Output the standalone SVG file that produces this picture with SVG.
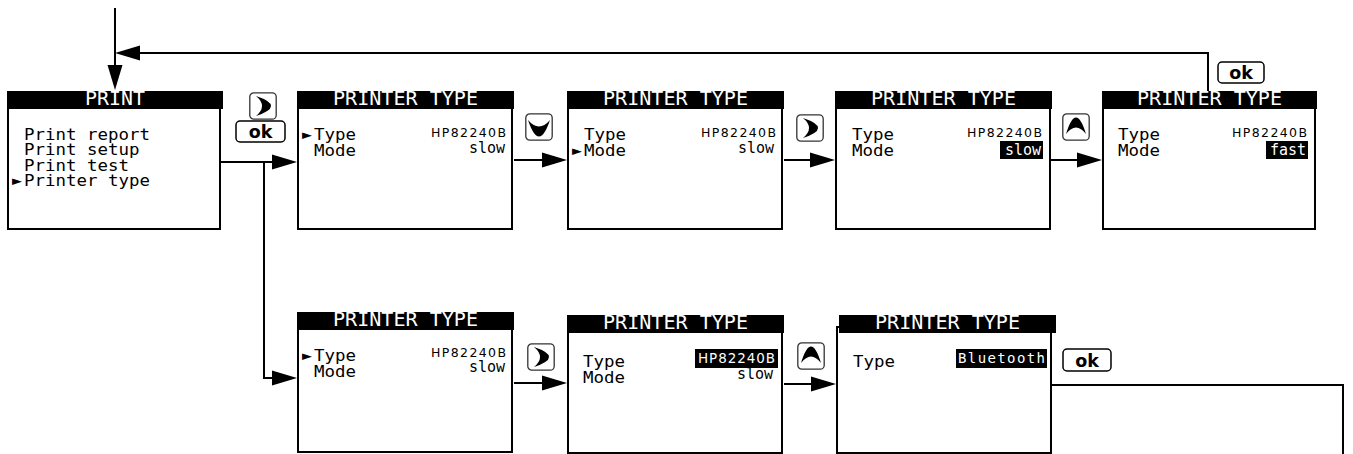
<svg xmlns="http://www.w3.org/2000/svg" xmlns:xlink="http://www.w3.org/1999/xlink" width="1353" height="454" viewBox="0 0 1353 454">
<style>
.box{fill:#fff;stroke:#000;stroke-width:2}
.bar{fill:#000}
.hdr{font-family:"DejaVu Sans Mono",monospace;font-size:19px;fill:#fff;text-anchor:middle}
.lbl{font-family:"DejaVu Sans Mono",monospace;font-size:16.5px;fill:#000}
.val{font-family:"DejaVu Sans",sans-serif;font-size:12.5px;fill:#000}
.valm{font-family:"DejaVu Sans Mono",monospace;font-size:13px;fill:#000}
.vs{font-family:"DejaVu Sans Mono",monospace;font-size:15px;fill:#000;text-anchor:end}
.inv{fill:#fff}
.hl{fill:#000}
.conn{fill:none;stroke:#000;stroke-width:2}
.key{fill:#fff;stroke:#333;stroke-width:1.3}
.okb{fill:#fff;stroke:#000;stroke-width:1.5}
.okt{font-family:"DejaVu Sans",sans-serif;font-weight:bold;font-size:17.5px;fill:#000;text-anchor:middle}
</style>
<defs>
<marker id="ah" markerUnits="userSpaceOnUse" viewBox="0 0 26 16" markerWidth="26" markerHeight="16" refX="15" refY="8" orient="auto">
<path d="M0,0.5 L25,8 L0,15.5Z" fill="#000"/>
</marker>
<symbol id="k-right" viewBox="0 0 28 28"><rect class="key" x="0.8" y="0.8" width="26.4" height="26.4" rx="4"/><path d="M7,4 Q37,14 7,24 Q19,14 7,4Z" fill="#000"/></symbol>
<symbol id="k-down" viewBox="0 0 28 28"><rect class="key" x="0.8" y="0.8" width="26.4" height="26.4" rx="4"/><path d="M3,7 Q14,20 25,7 Q14,40 3,7Z" fill="#000"/></symbol>
<symbol id="k-up" viewBox="0 0 28 28"><rect class="key" x="0.8" y="0.8" width="26.4" height="26.4" rx="4"/><path d="M4,21 Q14,-12 24,21 Q14,8 4,21Z" fill="#000"/></symbol>
</defs>

<g id="connectors">
<path class="conn" d="M115,8 V80" marker-end="url(#ah)"/>
<path class="conn" d="M1208,91 V53 H125" marker-end="url(#ah)"/>
<path class="conn" d="M221,162 H287" marker-end="url(#ah)"/>
<path class="conn" d="M264,162 V378 H287" marker-end="url(#ah)"/>
<path class="conn" d="M514,160 H557" marker-end="url(#ah)"/>
<path class="conn" d="M784,160 H825" marker-end="url(#ah)"/>
<path class="conn" d="M1051,160 H1092" marker-end="url(#ah)"/>
<path class="conn" d="M514,383 H557" marker-end="url(#ah)"/>
<path class="conn" d="M784,384 H826" marker-end="url(#ah)"/>
<path class="conn" d="M1052,385 H1343 V454"/>
</g>

<g id="keys">
<use xlink:href="#k-right" href="#k-right" x="249" y="92" width="28" height="28"/>
<rect class="okb" x="236" y="121" width="49" height="21" rx="4"/><text class="okt" x="260.5" y="138">ok</text>
<use xlink:href="#k-down" href="#k-down" x="525" y="113" width="28" height="28"/>
<use xlink:href="#k-right" href="#k-right" x="796" y="114" width="28" height="28"/>
<use xlink:href="#k-up" href="#k-up" x="1062" y="113" width="28" height="28"/>
<rect class="okb" x="1218" y="62" width="46" height="21" rx="4"/><text class="okt" x="1241" y="79">ok</text>
<use xlink:href="#k-right" href="#k-right" x="527" y="343" width="28" height="28"/>
<use xlink:href="#k-up" href="#k-up" x="797" y="342" width="28" height="28"/>
<rect class="okb" x="1063" y="349" width="48" height="22" rx="4"/><text class="okt" x="1087" y="366.5">ok</text>
</g>

<g id="n-print">
<rect class="box" x="8" y="103" width="212" height="126"/>
<rect class="bar" x="7" y="91" width="216" height="18"/>
<text class="hdr" x="115" y="105" textLength="60" lengthAdjust="spacingAndGlyphs">PRINT</text>
<text class="lbl" x="24" y="140" textLength="126" lengthAdjust="spacingAndGlyphs">Print report</text>
<text class="lbl" x="24" y="155.3" textLength="115.5" lengthAdjust="spacingAndGlyphs">Print setup</text>
<text class="lbl" x="24" y="170.6" textLength="105" lengthAdjust="spacingAndGlyphs">Print test</text>
<text class="lbl" y="186"><tspan x="12">►</tspan><tspan x="24" textLength="126" lengthAdjust="spacingAndGlyphs">Printer type</tspan></text>
</g>

<g id="n-type1">
<rect class="box" x="298" y="103" width="214" height="126"/>
<rect class="bar" x="297" y="91" width="217" height="18"/>
<text class="hdr" x="405.5" y="105" textLength="145" lengthAdjust="spacingAndGlyphs">PRINTER TYPE</text>
<text class="lbl" y="140"><tspan x="302">►</tspan><tspan x="314" textLength="42" lengthAdjust="spacingAndGlyphs">Type</tspan></text>
<text class="lbl" x="314" y="155.5" textLength="42" lengthAdjust="spacingAndGlyphs">Mode</text>
<text class="val" x="431" y="136.7" textLength="75" lengthAdjust="spacing">HP82240B</text>
<text class="vs" x="505" y="153.3">slow</text>
</g>

<g id="n-type2">
<rect class="box" x="568" y="103" width="214" height="126"/>
<rect class="bar" x="567" y="91" width="217" height="18"/>
<text class="hdr" x="675.5" y="105" textLength="145" lengthAdjust="spacingAndGlyphs">PRINTER TYPE</text>
<text class="lbl" x="584" y="140" textLength="42" lengthAdjust="spacingAndGlyphs">Type</text>
<text class="lbl" y="155.5"><tspan x="572">►</tspan><tspan x="584" textLength="42" lengthAdjust="spacingAndGlyphs">Mode</tspan></text>
<text class="val" x="701" y="136.7" textLength="75" lengthAdjust="spacing">HP82240B</text>
<text class="vs" x="774" y="153.3">slow</text>
</g>

<g id="n-type3">
<rect class="box" x="836" y="103" width="214" height="126"/>
<rect class="bar" x="835" y="91" width="217" height="18"/>
<text class="hdr" x="943.5" y="105" textLength="145" lengthAdjust="spacingAndGlyphs">PRINTER TYPE</text>
<text class="lbl" x="852" y="140" textLength="42" lengthAdjust="spacingAndGlyphs">Type</text>
<text class="lbl" x="852" y="155.5" textLength="42" lengthAdjust="spacingAndGlyphs">Mode</text>
<text class="val" x="967" y="136.7" textLength="75" lengthAdjust="spacing">HP82240B</text>
<rect class="hl" x="1000" y="141" width="43" height="18"/>
<text class="vs inv" x="1041" y="155">slow</text>
</g>

<g id="n-type4">
<rect class="box" x="1103" y="103" width="212" height="126"/>
<rect class="bar" x="1102" y="91" width="215" height="18"/>
<text class="hdr" x="1209.5" y="105" textLength="145" lengthAdjust="spacingAndGlyphs">PRINTER TYPE</text>
<text class="lbl" x="1118" y="140" textLength="42" lengthAdjust="spacingAndGlyphs">Type</text>
<text class="lbl" x="1118" y="155.5" textLength="42" lengthAdjust="spacingAndGlyphs">Mode</text>
<text class="val" x="1232" y="136.7" textLength="75" lengthAdjust="spacing">HP82240B</text>
<rect class="hl" x="1266" y="141" width="42" height="18"/>
<text class="vs inv" x="1306" y="155">fast</text>
</g>

<g id="n-type5">
<rect class="box" x="298" y="324" width="214" height="128"/>
<rect class="bar" x="297" y="312" width="217" height="18"/>
<text class="hdr" x="405.5" y="326" textLength="145" lengthAdjust="spacingAndGlyphs">PRINTER TYPE</text>
<text class="lbl" y="361"><tspan x="302">►</tspan><tspan x="314" textLength="42" lengthAdjust="spacingAndGlyphs">Type</tspan></text>
<text class="lbl" x="314" y="376.5" textLength="42" lengthAdjust="spacingAndGlyphs">Mode</text>
<text class="val" x="431" y="357.3" textLength="75" lengthAdjust="spacing">HP82240B</text>
<text class="vs" x="505" y="371.7">slow</text>
</g>

<g id="n-type6">
<rect class="box" x="568" y="327" width="214" height="126"/>
<rect class="bar" x="567" y="315" width="217" height="18"/>
<text class="hdr" x="675.5" y="329" textLength="145" lengthAdjust="spacingAndGlyphs">PRINTER TYPE</text>
<text class="lbl" x="583" y="366.7" textLength="42" lengthAdjust="spacingAndGlyphs">Type</text>
<text class="lbl" x="583" y="382.5" textLength="42" lengthAdjust="spacingAndGlyphs">Mode</text>
<rect class="hl" x="695" y="349" width="83" height="19"/>
<text class="val inv" x="698" y="362.5" textLength="77" lengthAdjust="spacing" style="font-size:13.5px">HP82240B</text>
<text class="vs" x="773" y="379">slow</text>
</g>

<g id="n-type7">
<rect class="box" x="837" y="327" width="214" height="126"/>
<rect class="bar" x="839" y="315" width="217" height="18"/>
<text class="hdr" x="947.5" y="329" textLength="145" lengthAdjust="spacingAndGlyphs">PRINTER TYPE</text>
<text class="lbl" x="853" y="366.7" textLength="42" lengthAdjust="spacingAndGlyphs">Type</text>
<rect class="hl" x="956" y="349" width="91" height="19"/>
<text class="valm inv" x="958" y="362.5" textLength="87" lengthAdjust="spacing" style="font-size:14px">Bluetooth</text>
</g>
</svg>
